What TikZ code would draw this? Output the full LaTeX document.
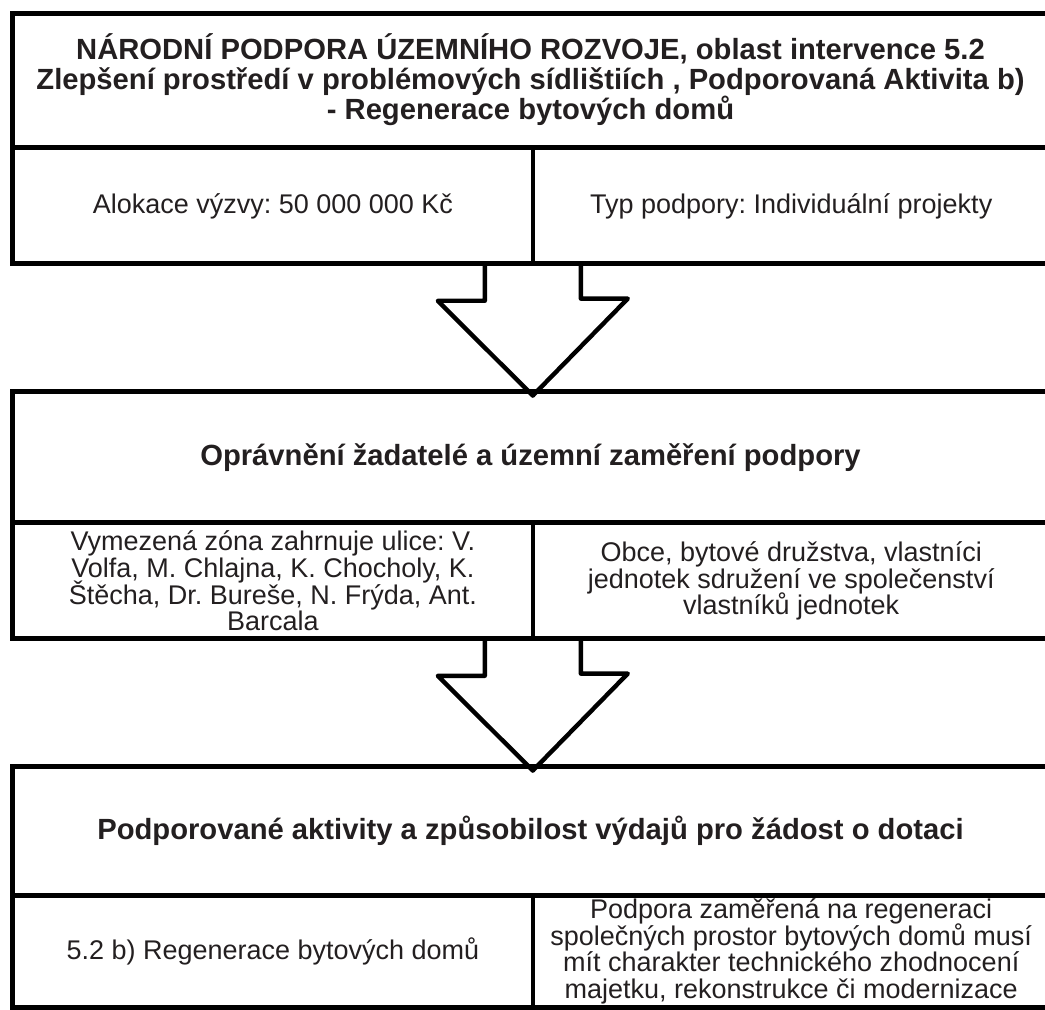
\documentclass[tikz,border=0pt]{standalone}
\usepackage{fontspec}
\setmainfont{Liberation Sans}
\usepackage{tikz}
\usetikzlibrary{positioning,calc}
\frenchspacing
\definecolor{inkgray}{RGB}{35,31,32}
\newcommand\tightskip{\lineskiplimit=-10pt\relax}

\begin{document}
\begin{tikzpicture}[
  x=0.5pt,y=-0.5pt,
  headbox/.style={align=center,inner sep=0pt,minimum width=517.5pt,text=inkgray,
    font=\fontsize{14.6}{15}\selectfont\bfseries\tightskip},
  cellbox/.style={align=center,inner sep=0pt,anchor=north west,text=inkgray,
    font=\fontsize{13.5}{13.3}\selectfont\tightskip},
  rim/.style={line width=2.5pt},
  divider/.style={line width=1.7pt},
  hollow/.style={line width=2.2pt,line join=round}
]
\useasboundingbox (0,0) rectangle (1045,1010);

% box 1
\node[headbox,minimum height=66.5pt] (head1) at (530.5,80)
  {NÁRODNÍ PODPORA ÚZEMNÍHO ROZVOJE, oblast intervence 5.2\\
   Zlepšení prostředí v problémových sídlištiích , Podporovaná Aktivita b)\\
   - Regenerace bytových domů};
\node[cellbox,minimum width=259.5pt,minimum height=57.5pt] (alloc) at (13,148)
  {Alokace výzvy: 50 000 000 Kč};
\node[cellbox,minimum width=258pt,minimum height=57.5pt] (kind) at (alloc.north east)
  {Typ podpory: Individuální projekty};

% box 2
\node[headbox,minimum height=65.5pt] (head2) at (530.5,457.5)
  {Oprávnění žadatelé a územní zaměření podpory};
\node[cellbox,minimum width=259.5pt,minimum height=57.5pt] (zone) at (13,523)
  {\raisebox{-3pt}{\parbox{255pt}{\centering\tightskip
   Vymezená zóna zahrnuje ulice: V.\\
   Volfa, M. Chlajna, K. Chocholy, K.\\
   Štěcha, Dr. Bureše, N. Frýda, Ant.\\
   Barcala}}};
\node[cellbox,minimum width=258pt,minimum height=57.5pt] (apply) at (zone.north east)
  {Obce, bytové družstva, vlastníci\\
   jednotek sdružení ve společenství\\
   vlastníků jednotek};

% box 3
\node[headbox,minimum height=64pt] (head3) at (530.5,831)
  {Podporované aktivity a způsobilost výdajů pro žádost o dotaci};
\node[cellbox,minimum width=259.5pt,minimum height=56pt] (activ) at (13,895)
  {5.2 b) Regenerace bytových domů};
\node[cellbox,minimum width=258pt,minimum height=56pt] (costs) at (activ.north east)
  {Podpora zaměřená na regeneraci\\
   společných prostor bytových domů musí\\
   mít charakter technického zhodnocení\\
   majetku, rekonstrukce či modernizace};

% frames
\foreach \h/\l/\r in {head1/alloc/kind,head2/zone/apply,head3/activ/costs}{
  \draw[rim] (\h.north west) rectangle (\r.south east);
  \draw[rim] (\l.north west) -- (\r.north east);
  \draw[divider] (\l.north east) -- (\l.south east);
}

% block arrows
\foreach \a/\b in {alloc/head2,zone/head3}{
  \draw[hollow] ($(\a.south east)+(-48,0)$) -- ++(0,37) -- ++(-47,0)
    -- ($(\b.north -| \a.south east)+(0,4)$) -- ++(95,-97) -- ++(-47,0)
    -- ($(\a.south east)+(48,0)$);
}
\end{tikzpicture}
\end{document}
